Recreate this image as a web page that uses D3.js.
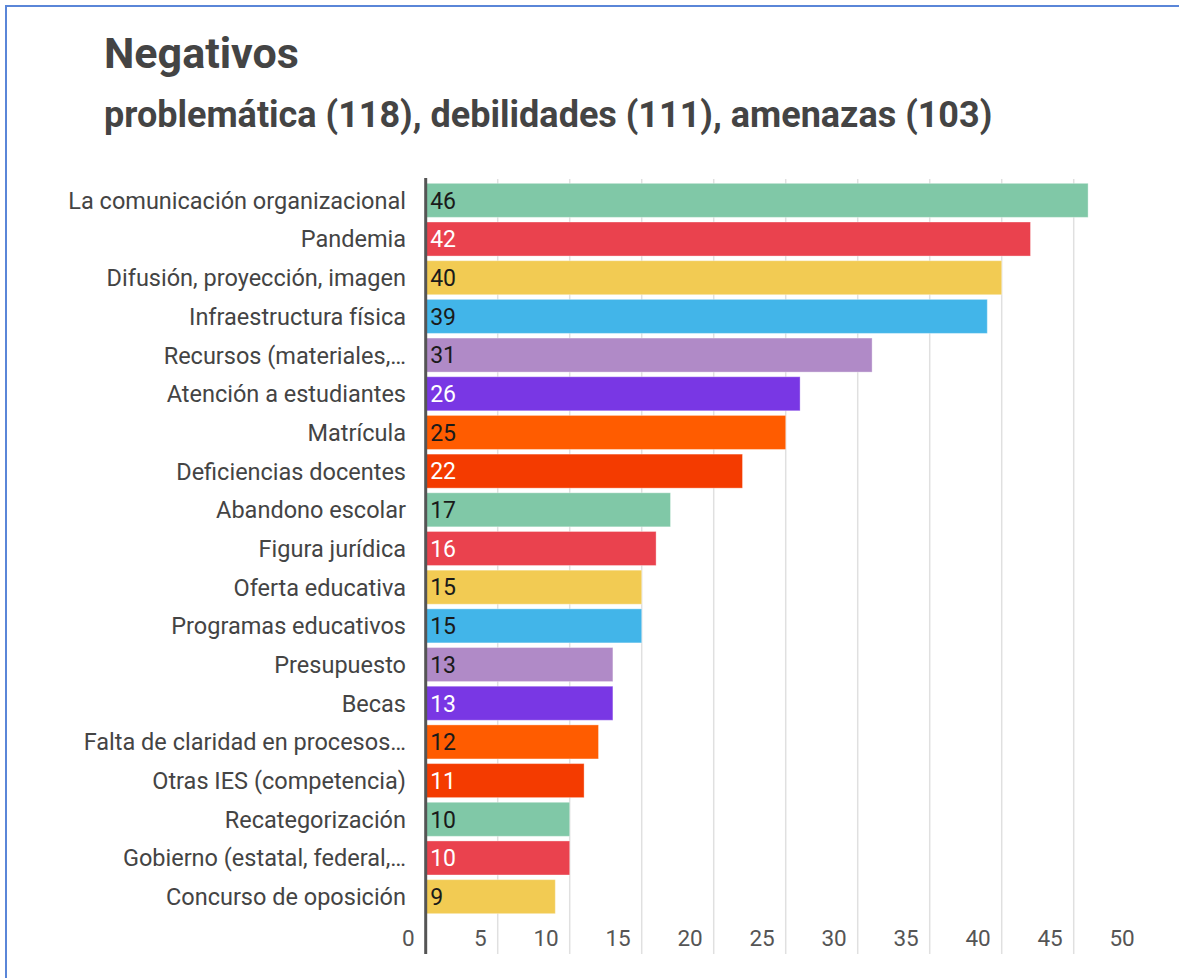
<!DOCTYPE html>
<html>
<head>
<meta charset="utf-8">
<script src="https://cdn.jsdelivr.net/npm/d3@7"></script>
<style>
	body { margin: 0; background: #fff; }
	text { font-family: Roboto, "Noto Sans", sans-serif; }
</style>
</head>
<body>
<div id="content"></div>
<script>
var categories = [
	"La comunicación organizacional",
	"Pandemia",
	"Difusión, proyección, imagen",
	"Infraestructura física",
	"Recursos (materiales,…",
	"Atención a estudiantes",
	"Matrícula",
	"Deficiencias docentes",
	"Abandono escolar",
	"Figura jurídica",
	"Oferta educativa",
	"Programas educativos",
	"Presupuesto",
	"Becas",
	"Falta de claridad en procesos…",
	"Otras IES (competencia)",
	"Recategorización",
	"Gobierno (estatal, federal,…",
	"Concurso de oposición"
];
var values = [46, 42, 40, 39, 31, 26, 25, 22, 17, 16, 15, 15, 13, 13, 12, 11, 10, 10, 9];
var xTicks = [0, 5, 10, 15, 20, 25, 30, 35, 40, 45, 50];

var title = "Negativos";
var subtitle = "problemática (118), debilidades (111), amenazas (103)";

// palette cycles every 8 bars, with the label colour that goes on each
var palette = ["#80c8a7", "#ea424e", "#f2cb53", "#42b5e9", "#b08ac7", "#7937e4", "#ff5c00", "#f43b00"];
var labelInk = ["#1a1a1a", "#ffffff", "#1a1a1a", "#1a1a1a", "#1a1a1a", "#ffffff", "#1a1a1a", "#ffffff"];

function main() {
	var width = 1179, height = 978;
	var svg = d3.select("#content").append("svg")
		.attr("width", width)
		.attr("height", height);

	// frame
	svg.append("path")
		.attr("d", "M6,978 V6 H1179")
		.attr("fill", "none")
		.attr("stroke", "#5a86d8")
		.attr("stroke-width", 2);

	svg.append("text")
		.attr("x", 104).attr("y", 68)
		.attr("font-size", 43).attr("font-weight", 700)
		.attr("fill", "#444")
		.text(title);

	svg.append("text")
		.attr("x", 104).attr("y", 127)
		.attr("font-size", 36).attr("font-weight", 700)
		.attr("fill", "#444")
		.text(subtitle);

	var x = d3.scaleLinear().domain([0, 50]).range([425.7, 1145.7]);
	var y = d3.scaleBand().domain(categories).range([181, 916])
		.paddingInner(0.12).paddingOuter(0.06);

	var gridTop = 179, gridBottom = 954;

	// gridlines
	svg.append("g").selectAll("line")
		.data(xTicks.filter(function (d) { return d > 0 && d < 50; }))
		.enter().append("line")
		.attr("x1", function (d) { return x(d); })
		.attr("x2", function (d) { return x(d); })
		.attr("y1", gridTop).attr("y2", gridBottom)
		.attr("stroke", "#e0e0e0")
		.attr("stroke-width", 1.5);

	// bars
	var rows = categories.map(function (c, i) { return { name: c, value: values[i], i: i }; });
	svg.append("g").selectAll("rect")
		.data(rows)
		.enter().append("rect")
		.attr("x", x(0))
		.attr("y", function (d) { return y(d.name); })
		.attr("width", function (d) { return x(d.value) - x(0); })
		.attr("height", y.bandwidth())
		.attr("fill", function (d) { return palette[d.i % 8]; })
		.attr("stroke", "rgba(255,255,255,0.35)")
		.attr("stroke-width", 1);

	// value labels inside bars
	svg.append("g").selectAll("text")
		.data(rows)
		.enter().append("text")
		.attr("x", x(0) + 4.5)
		.attr("y", function (d) { return y(d.name) + y.bandwidth() / 2; })
		.attr("dy", "0.36em")
		.attr("font-size", 23)
		.attr("font-weight", 400)
		.attr("fill", function (d) { return labelInk[d.i % 8]; })
		.text(function (d) { return d.value; });

	// category labels
	svg.append("g").selectAll("text")
		.data(categories)
		.enter().append("text")
		.attr("x", 406)
		.attr("y", function (d) { return y(d) + y.bandwidth() / 2; })
		.attr("dy", "0.36em")
		.attr("text-anchor", "end")
		.attr("font-size", 23.5)
		.attr("fill", "#444")
		.text(function (d) { return d; });

	// x tick labels
	svg.append("g").selectAll("text")
		.data(xTicks)
		.enter().append("text")
		.attr("x", function (d) { return x(d) - 11; })
		.attr("y", 938)
		.attr("dy", "0.36em")
		.attr("text-anchor", "end")
		.attr("font-size", 22.5)
		.attr("fill", "#555")
		.text(function (d) { return d; });

	// zero axis
	svg.append("line")
		.attr("x1", x(0)).attr("x2", x(0))
		.attr("y1", gridTop - 1).attr("y2", gridBottom)
		.attr("stroke", "#555")
		.attr("stroke-width", 3);
}

main();
</script>
</body>
</html>
